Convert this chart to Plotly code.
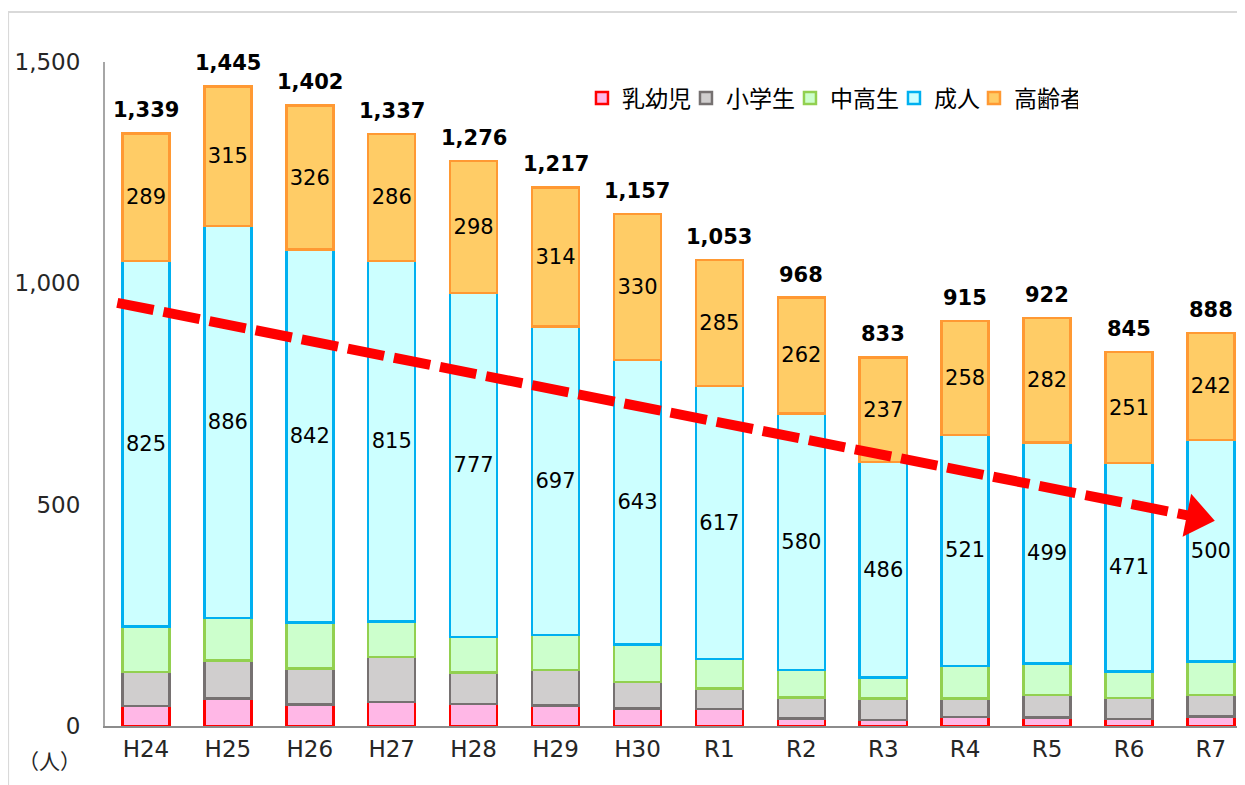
import plotly.graph_objects as go

# 年度
years = ["H24", "H25", "H26", "H27", "H28", "H29", "H30", "R1", "R2", "R3", "R4", "R5", "R6", "R7"]

# 年齢区分ごとの人数（人）
infant = [45, 62, 49, 54, 50, 46, 39, 38, 17, 14, 20, 19, 16, 21]
elementary = [77, 86, 81, 102, 71, 81, 60, 47, 47, 48, 42, 51, 47, 49]
secondary = [103, 96, 104, 80, 80, 79, 85, 66, 62, 48, 74, 71, 60, 76]
adult = [825, 886, 842, 815, 777, 697, 643, 617, 580, 486, 521, 499, 471, 500]
elderly = [289, 315, 326, 286, 298, 314, 330, 285, 262, 237, 258, 282, 251, 242]
totals = [1339, 1445, 1402, 1337, 1276, 1217, 1157, 1053, 968, 833, 915, 922, 845, 888]

# 減少傾向の矢印（始点・終点）
trend_x = [-0.35, 12.82]
trend_y = [956, 472]

FONT = "DejaVu Sans, Noto Sans CJK JP, sans-serif"

series = [
    ("乳幼児", infant, "#FFB7E6", "#FF0000", False, 59),
    ("小学生", elementary, "#D0CECE", "#767171", False, 59),
    ("中高生", secondary, "#CCFFCC", "#92D050", False, 59),
    ("成人", adult, "#CCFFFF", "#00B0F0", True, 35),
    ("高齢者", elderly, "#FFCC66", "#FF9933", True, 59),
]

fig = go.Figure()

for name, vals, fill, line, labelled, lw in series:
    fig.add_trace(go.Bar(
        x=years,
        y=vals,
        name=name,
        marker=dict(color=fill, line=dict(color=line, width=2.5)),
        text=[str(v) for v in vals] if labelled else None,
        textposition="inside" if labelled else "none",
        insidetextanchor="middle",
        textangle=0,
        constraintext="none",
        textfont=dict(family=FONT, size=21, color="#000000"),
        legendwidth=lw,
    ))

# 合計値ラベル
for yr, tot in zip(years, totals):
    fig.add_annotation(
        x=yr, y=tot, text=f"{tot:,}",
        showarrow=False, yanchor="bottom", yshift=9,
        font=dict(family=FONT, size=21, color="#000000", weight="bold"),
    )

# 矢印（破線＋三角）
fig.add_trace(go.Scatter(
    x=trend_x, y=trend_y, xaxis="x2", mode="lines",
    line=dict(color="#FF0000", width=10, dash="37px,10px"),
    showlegend=False, hoverinfo="skip",
))
fig.add_trace(go.Scatter(
    x=trend_x[-1:], y=trend_y[-1:], xaxis="x2", mode="markers",
    marker=dict(symbol="triangle-right", size=38, color="#FF0000", angle=11.2,
                line=dict(width=0)),
    showlegend=False, hoverinfo="skip",
))

fig.add_annotation(
    text="（人）", xref="paper", yref="paper", x=-0.049, y=-0.054,
    xanchor="center", yanchor="middle",
    showarrow=False, font=dict(family=FONT, size=21, color="#262626"),
)

# 外枠
fig.add_shape(
    type="rect", xref="paper", yref="paper", x0=-0.085, y0=-0.3, x1=1.2, y1=1.0753,
    line=dict(color="#D9D9D9", width=2), layer="below",
)

# ページ余白 (8px) 分を差し引いたサイズ
fig.update_layout(
    width=1237,
    height=777,
    barmode="stack",
    bargap=0.426,
    plot_bgcolor="white",
    paper_bgcolor="white",
    margin=dict(l=97, r=0, t=54, b=59),
    font=dict(family=FONT, color="#262626"),
    xaxis=dict(
        range=[-0.5, 13.416],
        showline=True, linecolor="#8C8C8C", linewidth=2,
        showgrid=False, ticks="",
        tickfont=dict(size=23, color="#262626"),
        ticklabelstandoff=1,
    ),
    xaxis2=dict(overlaying="x", range=[-0.5, 13.416], visible=False),
    yaxis=dict(
        range=[0, 1500],
        tickvals=[0, 500, 1000, 1500],
        tickformat=",",
        showline=True, linecolor="#A6A6A6", linewidth=2,
        showgrid=False, zeroline=False, ticks="",
        tickfont=dict(size=23, color="#262626"),
        ticklabelstandoff=18,
    ),
    legend=dict(
        orientation="h",
        x=0.4184, xanchor="left",
        y=0.978, yanchor="top",
        font=dict(family=FONT, size=23, color="#000000"),
        bgcolor="rgba(0,0,0,0)",
        traceorder="normal",
    ),
    showlegend=True,
)

fig.write_html("out.html")
